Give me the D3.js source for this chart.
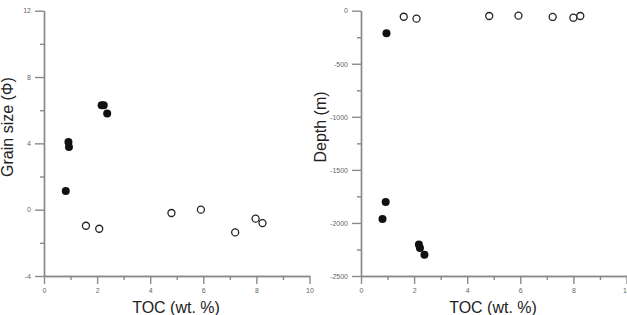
<!DOCTYPE html>
<html>
<head>
<meta charset="utf-8">
<script src="https://cdn.jsdelivr.net/npm/d3@7"></script>
<style>
  body { margin: 0; background: #fff; }
  svg { display: block; font-family: "Liberation Sans", Arial, sans-serif; }
</style>
</head>
<body>
<svg id="chart"></svg>
<script>
var width = 627,
    height = 315;

// grain size panel
var grainFilledToc = [0.82, 0.92, 0.94, 2.17, 2.25, 2.38];
var grainFilled = [1.12, 4.08, 3.78, 6.3, 6.3, 5.8];
var grainOpenToc = [1.58, 2.08, 4.8, 5.91, 7.2, 7.97, 8.23];
var grainOpen = [-0.97, -1.15, -0.2, 0.0, -1.37, -0.54, -0.81];

// depth panel
var depthFilledToc = [0.96, 0.93, 0.81, 2.18, 2.22, 2.39];
var depthFilled = [-213, -1802, -1962, -2204, -2236, -2299];
var depthOpenToc = [1.61, 2.09, 4.83, 5.93, 7.22, 8.0, 8.26];
var depthOpen = [-57, -75, -50, -47, -59, -66, -50];

var tocTicks = [0, 2, 4, 6, 8, 10];
var grainTicks = [-4, 0, 4, 8, 12];
var depthTicks = [-2500, -2000, -1500, -1000, -500, 0];

var svg = d3.select("#chart").attr("width", width).attr("height", height);

function zip(a, b) {
    return a.map(function(v, i) { return [v, b[i]]; });
}

// plain hyphen, no thousands separator, like the original
var plain = function(d) { return String(d); };

function panel(opt) {
    var x = d3.scaleLinear().domain([0, 10]).range([opt.left, opt.left + 265.5]);
    var y = d3.scaleLinear().domain(opt.yDomain).range([276, 10.7]);
    var g = svg.append("g");

    // major ticks labelled, minor ticks in between
    var xAxis = d3.axisBottom(x).tickValues(tocTicks).tickFormat(plain).tickSize(8).tickPadding(4).tickSizeOuter(0);
    var xMinor = d3.axisBottom(x).tickValues(d3.range(1, 10, 2)).tickSize(4).tickFormat("").tickSizeOuter(0);
    var yAxis = d3.axisLeft(y).tickValues(opt.yTicks).tickFormat(plain).tickSize(9).tickPadding(4).tickSizeOuter(0);
    var yMinor = d3.axisLeft(y).tickValues(opt.yMinor).tickSize(4).tickFormat("").tickSizeOuter(0);

    [xAxis, xMinor].forEach(function(a) {
        g.append("g").attr("transform", "translate(0,276)").call(a);
    });
    [yAxis, yMinor].forEach(function(a) {
        g.append("g").attr("transform", "translate(" + opt.left + ",0)").call(a);
    });
    g.selectAll(".domain, .tick line").attr("stroke", "#8a8a8a").attr("stroke-width", 1.4);
    g.selectAll(".tick text").attr("fill", "#666").style("font-size", "7px");

    g.selectAll(".filled").data(zip(opt.filledX, opt.filledY))
        .enter()
        .append("circle")
            .attr("cx", function(d) { return x(d[0]); })
            .attr("cy", function(d) { return y(d[1]); })
            .attr("r", 4)
            .style("fill", "#111");

    g.selectAll(".open").data(zip(opt.openX, opt.openY))
        .enter()
        .append("circle")
            .attr("cx", function(d) { return x(d[0]); })
            .attr("cy", function(d) { return y(d[1]); })
            .attr("r", 3.5)
            .style("fill", "#fff")
            .style("stroke", "#222")
            .style("stroke-width", 1.3);

    g.append("text")
        .attr("x", opt.left + 132)
        .attr("y", 313)
        .attr("text-anchor", "middle")
        .attr("fill", "#222")
        .style("font-size", "16px")
        .text("TOC (wt. %)");

    g.append("text")
        .attr("transform", "translate(" + opt.labelX + ",127) rotate(-90)")
        .attr("text-anchor", "middle")
        .attr("fill", "#222")
        .style("font-size", "16px")
        .text(opt.yLabel);
}

panel({
    left: 44,
    yDomain: [-4, 12],
    yTicks: grainTicks,
    yMinor: [-2, 2, 6, 10],
    filledX: grainFilledToc, filledY: grainFilled,
    openX: grainOpenToc, openY: grainOpen,
    labelX: 13,
    yLabel: "Grain size (Φ)"
});

panel({
    left: 361,
    yDomain: [-2500, 0],
    yTicks: depthTicks,
    yMinor: [-2250, -1750, -1250, -750, -250],
    filledX: depthFilledToc, filledY: depthFilled,
    openX: depthOpenToc, openY: depthOpen,
    labelX: 326,
    yLabel: "Depth (m)"
});
</script>
</body>
</html>
